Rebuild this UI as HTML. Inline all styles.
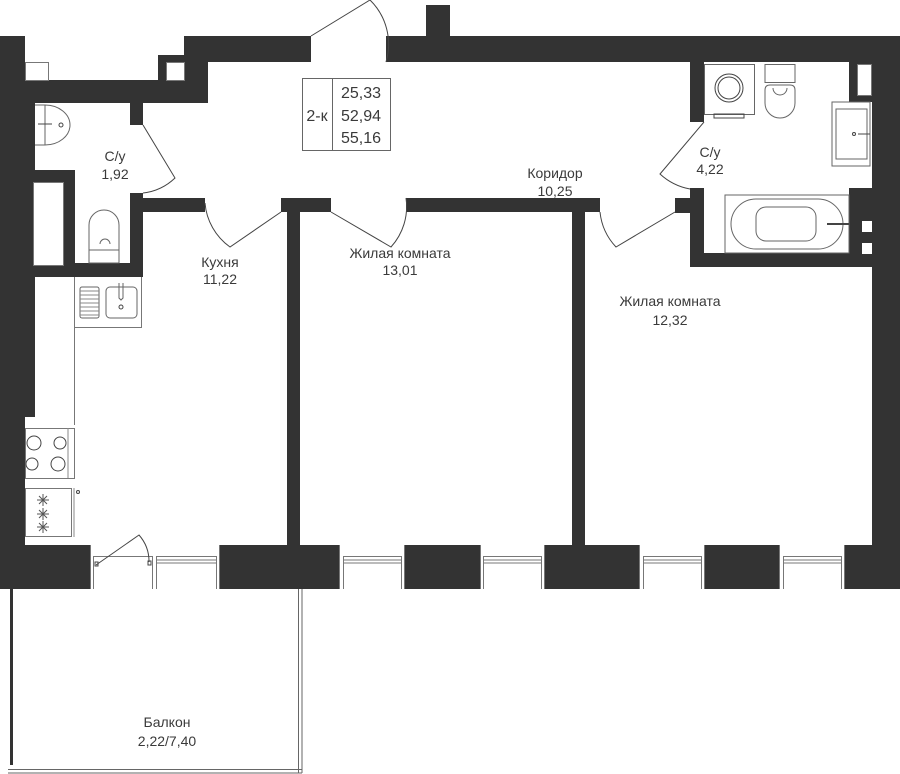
<!DOCTYPE html>
<html><head><meta charset="utf-8"><style>
html,body{margin:0;padding:0;background:#fff;}
svg{display:block;}
text{font-family:"Liberation Sans",sans-serif;fill:#3a3a3a;}
</style></head><body>
<svg width="900" height="774" viewBox="0 0 900 774" xmlns="http://www.w3.org/2000/svg">
<g fill="#333">
<rect x="0" y="36" width="25" height="553"/>
<rect x="25" y="62" width="10" height="355"/>
<rect x="0" y="80" width="208" height="23"/>
<rect x="184" y="36" width="127" height="26"/>
<rect x="158" y="55" width="50" height="7"/>
<rect x="158" y="55" width="8" height="25"/>
<rect x="184" y="62" width="24" height="41"/>
<rect x="386" y="36" width="514" height="26"/>
<rect x="426" y="5" width="24" height="31"/>
<rect x="849" y="62" width="51" height="40"/>
<rect x="872" y="62" width="28" height="483"/>
<rect x="849" y="188" width="51" height="67"/>
<rect x="690" y="253" width="210" height="14"/>
<rect x="690" y="62" width="14" height="60"/>
<rect x="690" y="188" width="14" height="67"/>
<rect x="675" y="198" width="29" height="15"/>
<rect x="130" y="103" width="13" height="22"/>
<rect x="130" y="193" width="13" height="84"/>
<rect x="35" y="170" width="40" height="12"/>
<rect x="63" y="170" width="12" height="107"/>
<rect x="0" y="263" width="143" height="14"/>
<rect x="143" y="198" width="62" height="14"/>
<rect x="281" y="198" width="50" height="14"/>
<rect x="287" y="198" width="13" height="350"/>
<rect x="406" y="198" width="194" height="14"/>
<rect x="572" y="198" width="13" height="350"/>
<rect x="0" y="545" width="90" height="44"/>
<rect x="220" y="545" width="120" height="44"/>
<rect x="405" y="545" width="75" height="44"/>
<rect x="545" y="545" width="95" height="44"/>
<rect x="705" y="545" width="75" height="44"/>
<rect x="845" y="545" width="55" height="44"/>
<rect x="10" y="589" width="3" height="176"/>
</g>
<g fill="#fff" stroke="#777" stroke-width="1">
<rect x="25.5" y="62.5" width="23" height="18"/>
<rect x="166.5" y="62.5" width="18" height="18"/>
<rect x="857.5" y="64.5" width="14" height="31"/>
<rect x="862" y="221" width="10" height="11" stroke="none"/>
<rect x="862" y="243" width="10" height="11" stroke="none"/>
<rect x="33.5" y="182.5" width="30" height="83"/>
</g>
<g fill="none" stroke="#444" stroke-width="1">
<path d="M311 36 L370 0 A62 62 0 0 1 386 62"/>
<path d="M143 125 L175 178 A55 55 0 0 1 143 193"/>
<path d="M205 203 A60 60 0 0 0 230 247 L281 212"/>
<path d="M331 212 L391 247 A60 60 0 0 0 406 198"/>
<path d="M600 212 A60 60 0 0 0 616 247 L675 212"/>
<path d="M704 122 L660 174 A60 60 0 0 0 690 189"/>
<rect x="302.5" y="78.5" width="88" height="72" stroke="#666"/>
<line x1="332.5" y1="78" x2="332.5" y2="151" stroke="#666"/>
<path d="M45 105 A25 20 0 0 1 45 145 Z" stroke="#666"/>
<path d="M35 105 H45 M35 145 H45" stroke="#666"/>
<circle cx="61" cy="125" r="2"/>
<line x1="38" y1="124" x2="52" y2="124"/>
<path d="M89 235 V225 A15 15 0 0 1 119 225 V250 H89 Z" stroke="#666"/>
<path d="M100 244 A5 5 0 0 1 110 244" stroke="#666"/>
<rect x="89" y="250" width="30" height="13" stroke="#666"/>
<path d="M74.5 277 V425 M74.5 327.5 H141.5 V277" stroke="#777"/>
<rect x="80" y="287" width="19" height="31" rx="2" stroke="#666"/>
<path d="M80 291 H99 M80 295 H99 M80 299 H99 M80 303 H99 M80 307 H99 M80 311 H99 M80 315 H99" stroke="#888"/>
<rect x="106" y="287" width="31" height="31" rx="4" stroke="#666"/>
<circle cx="121" cy="307" r="2"/>
<path d="M119 283 V298 L121 300 L123 298 V283" stroke="#666"/>
<rect x="25.5" y="428.5" width="49" height="50" stroke="#777"/>
<line x1="68" y1="428" x2="68" y2="478" stroke="#888"/>
<circle cx="34" cy="443" r="7"/><circle cx="60" cy="443" r="6"/>
<circle cx="32" cy="464" r="6"/><circle cx="58" cy="464" r="7"/>
<rect x="25.5" y="488.5" width="46" height="48" stroke="#777"/>
<line x1="74" y1="488" x2="74" y2="537" stroke="#888"/>
<circle cx="78" cy="492" r="1.5"/>
<g stroke="#555">
<path d="M43 494 V506 M37 500 H49 M39 496 L47 504 M47 496 L39 504"/>
<path d="M43 508 V520 M37 514 H49 M39 510 L47 518 M47 510 L39 518"/>
<path d="M43 521 V533 M37 527 H49 M39 523 L47 531 M47 523 L39 531"/>
</g>
<rect x="704.5" y="64.5" width="50" height="50" stroke="#666"/>
<circle cx="729" cy="88" r="14"/><circle cx="729" cy="88" r="11"/>
<rect x="714" y="114" width="30" height="4"/>
<rect x="765" y="64.5" width="30" height="18" stroke="#666"/>
<path d="M765 90 Q765 85 770 85 H790 Q795 85 795 90 V103 A15 15 0 0 1 765 103 Z" stroke="#666"/>
<path d="M773 88 A7 7 0 0 0 787 88" stroke="#666"/>
<rect x="832" y="102" width="38" height="64" stroke="#666"/>
<rect x="836" y="109" width="31" height="50" stroke="#666"/>
<circle cx="854" cy="134" r="1.5"/>
<line x1="858" y1="134" x2="870" y2="134"/>
<rect x="725" y="195" width="124" height="58" stroke="#666"/>
<rect x="731" y="199" width="112" height="50" rx="25" stroke="#666"/>
<rect x="756" y="207" width="60" height="34" rx="10" stroke="#666"/>
<line x1="827" y1="224" x2="849" y2="224" stroke-width="2"/>
<g stroke="#777">
<path d="M93.5 589 V556.5 H152.5 V589 M156.5 589 V556.5 H216.5 V589 M156 563 H216 M156 560 H216"/>
<path d="M343.5 589 V556.5 H401.5 V589 M343 560 H401 M343 563 H401"/>
<path d="M483.5 589 V556.5 H541.5 V589 M483 560 H541 M483 563 H541"/>
<path d="M643.5 589 V556.5 H701.5 V589 M643 560 H701 M643 563 H701"/>
<path d="M783.5 589 V556.5 H841.5 V589 M783 560 H841 M783 563 H841"/>
<path d="M90.5 545 V589 M219.5 545 V589 M339.5 545 V589 M404.5 545 V589 M480.5 545 V589 M544.5 545 V589 M639.5 545 V589 M704.5 545 V589 M779.5 545 V589 M844.5 545 V589"/>
</g>
<path d="M96 565 L139 535 A40 40 0 0 1 149 562" stroke="#444"/>
<rect x="95" y="562" width="3" height="4"/><rect x="148" y="561" width="3" height="4"/>
<path d="M298.5 589 V773 M302 589 V773 M8 769.5 H302 M8 773 H302" stroke="#666"/>
</g>
<g font-size="16" text-anchor="middle">
<text x="317" y="121">2-к</text>
<text x="361" y="98">25,33</text>
<text x="361" y="121">52,94</text>
<text x="361" y="143">55,16</text>
</g>
<g font-size="14" text-anchor="middle">
<text x="115" y="161">С/у</text><text x="115" y="179">1,92</text>
<text x="220" y="267">Кухня</text><text x="220" y="284">11,22</text>
<text x="400" y="258">Жилая комната</text><text x="400" y="275">13,01</text>
<text x="555" y="178">Коридор</text><text x="555" y="196">10,25</text>
<text x="710" y="157">С/у</text><text x="710" y="174">4,22</text>
<text x="670" y="306">Жилая комната</text><text x="670" y="325">12,32</text>
<text x="167" y="727">Балкон</text><text x="167" y="746">2,22/7,40</text>
</g>
</svg>
</body></html>
